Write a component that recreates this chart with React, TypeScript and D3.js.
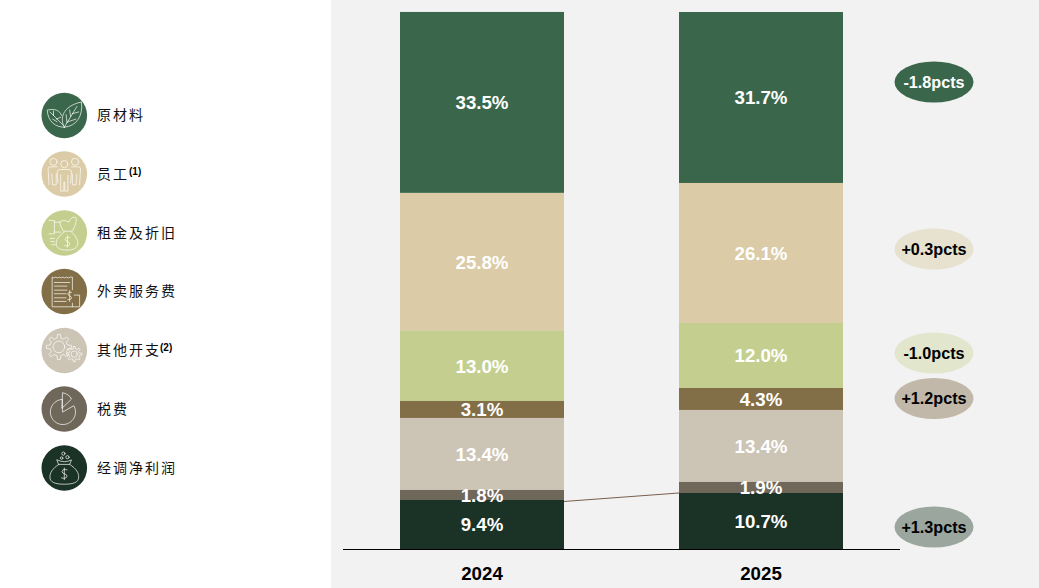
import React from "react";
import * as d3 from "d3";

const W = 1039, H = 588;

const categories = ["原材料", "员工", "租金及折旧", "外卖服务费", "其他开支", "税费", "经调净利润"];
const notes = ["", "(1)", "", "", "(2)", "", ""];
const years = ["2024", "2025"];
// Drawn band shares (top band first)
const shares2024 = [33.7, 25.7, 13.04, 3.17, 13.41, 1.86, 9.13];
const shares2025 = [31.84, 26.07, 12.1, 4.1, 13.41, 2.05, 10.43];
// Printed labels
const labels2024 = ["33.5%", "25.8%", "13.0%", "3.1%", "13.4%", "1.8%", "9.4%"];
const labels2025 = ["31.7%", "26.1%", "12.0%", "4.3%", "13.4%", "1.9%", "10.7%"];
const colors = ["#3A674B", "#DBCBA6", "#C4CF8F", "#836F47", "#CCC4B4", "#70675B", "#1B3226"];

const deltaLabels = ["-1.8pcts", "+0.3pcts", "-1.0pcts", "+1.2pcts", "+1.3pcts"];
const deltaPos = [82, 249, 353, 398.5, 527];
const deltaFill = ["#3A674B", "#E7E1D0", "#E2E6CC", "#C1B8A9", "#9AA69E"];
const deltaText = ["#FFFFFF", "#000000", "#000000", "#000000", "#000000"];

const LEGEND_Y = [115.5, 174, 233, 291.5, 350.5, 409, 468];

const y = d3.scaleLinear().domain([0, 100]).range([549, 12]);
const x = d3.scaleBand<string>().domain(years).range([400, 843]).paddingInner(115 / 279).paddingOuter(0);

function stackOf(values: number[]) {
  let acc = 0;
  const out: { y0: number; y1: number }[] = [];
  for (let i = values.length - 1; i >= 0; i--) {
    out[i] = { y0: y(acc), y1: y(acc + values[i]) };
    acc += values[i];
  }
  return out;
}

const gear = (cx: number, cy: number, r0: number, r1: number, n: number) => {
  const pts: [number, number][] = [];
  for (let i = 0; i < n; i++) {
    const a = (i / n) * 2 * Math.PI;
    const w = Math.PI / n / 2;
    [[a - w * 1.1, r0], [a - w * 0.6, r1], [a + w * 0.6, r1], [a + w * 1.1, r0]].forEach(([t, r]) =>
      pts.push([cx + r * Math.cos(t), cy + r * Math.sin(t)])
    );
  }
  return d3.line()(pts) + "Z";
};

const icons: React.ReactNode[] = [
  <g key="leaf">
    <path d="M24 37 C14 37 6 31 5 18 C13 16 19 18 21 24" />
    <path d="M8 20 L23 35 M12 24 L12 19 M15 28 L20 26 M11 28 L16 31" />
    <path d="M24 37 C19 28 21 14 43 9 C45 24 38 36 24 37 Z" />
    <path d="M24 37 L38 14 M27 32 L26 23 M31 25 L30 18 M28 31 L37 28 M33 22 L40 20" />
  </g>,
  <g key="people">
    <circle cx="12" cy="10.5" r="4" />
    <circle cx="24" cy="13" r="4" />
    <circle cx="36" cy="10.5" r="4" />
    <path d="M7 36 L6 18 Q6 16 9 16 L16 16 M10 24 L11 36 L15 36 L15 24" />
    <path d="M41 36 L42 18 Q42 16 39 16 L32 16 M38 24 L37 36 L33 36 L33 24" />
    <path d="M17 34 L16 22 Q16 19 19 19 L29 19 Q32 19 32 22 L31 34 M20 25 L20 43 L23.5 43 L23.5 33 L24.5 33 L24.5 43 L28 43 L28 25" />
  </g>,
  <g key="bag">
    <path d="M7 10 L13 10 L13 25 L7 25 M13 12 L19 12 M13 23 L20 23" />
    <path d="M19 12 C21 9 26 10 29 12 C30 8 35 5 37 7 C38 12 35 18 33 22 L23 22 C21 18 19 15 19 12 Z" />
    <path d="M24 23 C18 27 15 31 15 36 C15 41 20 43 27 43 C34 43 39 41 39 35 C39 31 36 26 32 23" />
    <path d="M8 30 L13 30 M9 33.5 L13 33.5 M10 37 L14 37" />
    <path d="M30 29 C28 28 25 29 25 31 C25 34 30 33 30 36 C30 38 27 39 24.5 38 M27.5 27 L27.5 40" />
  </g>,
  <g key="receipt">
    <path d="M33 37 L33 41 L10.5 41 L10.5 8 Q12.5 10 14.5 8 Q16.5 10 18.5 8 Q20.5 10 22.5 8 Q24.5 10 26.5 8 Q28.5 10 30.5 8 L33 8 L33 22" />
    <path d="M13 14 L30 14 M13 18 L27 18 M13 22.5 L27 22.5 M13 26.5 L26 26.5 M13 31 L26 31 M13 35 L26 35" />
    <path d="M32 25 C30 24 28 25 28 27 C28 29 32 29 32 31 C32 33 30 33 28 33 M30 23 L30 35" />
    <path d="M35 28 L41 28 L41 41 L33 41" />
  </g>,
  <g key="gears">
    <path d={gear(18, 20, 10, 14, 8)} />
    <circle cx="18" cy="20" r="6.5" />
    <path d={gear(35, 28, 6, 8.5, 8)} />
    <circle cx="35" cy="28" r="3.5" />
  </g>,
  <g key="pie">
    <path d="M21.5 13.3 A14 14 0 1 0 34.6 20.3 L22.5 27.3 Z" />
    <path d="M22.5 6 C27 7 30 9 32 13 L21.5 23 Z" />
  </g>,
  <g key="money">
    <path d="M18 20 C10 25 8 30 8 34 C8 40 14 42 24 42 C34 42 40 40 40 34 C40 30 38 25 30 20" />
    <path d="M16 15 Q20 17 24 17 Q28 17 32 15 L30 20 L18 20 Z" />
    <circle cx="23" cy="8" r="1.8" />
    <circle cx="27.5" cy="12" r="1.8" />
    <circle cx="21" cy="13" r="1.4" />
    <path d="M27 26 C25 25 21.5 25.5 21.5 28 C21.5 31 27 30 27 33 C27 35.5 23 36 21 35 M24 24 L24 37" />
  </g>,
];

export default function App() {
  const bw = x.bandwidth();
  const bars = [
    { year: years[0], x: x(years[0])!, stack: stackOf(shares2024), labels: labels2024 },
    { year: years[1], x: x(years[1])!, stack: stackOf(shares2025), labels: labels2025 },
  ];
  const connect = {
    x1: bars[0].x + bw,
    y1: bars[0].stack[6].y1 + 1.5,
    x2: bars[1].x,
    y2: bars[1].stack[6].y1,
  };
  const textFont = "'Liberation Sans', Arial, sans-serif";
  return (
    <svg
      width={W}
      height={H}
      viewBox={`0 0 ${W} ${H}`}
      style={{ position: "absolute", left: 0, top: 0, display: "block", background: "#fff" }}
    >
      <rect x={331} y={0} width={W - 331} height={H} fill="#F2F2F2" />
      {bars.map((b) => (
        <g key={b.year}>
          {b.stack.map((s, i) => (
            <rect key={i} x={b.x} y={s.y1} width={bw} height={s.y0 - s.y1} fill={colors[i]} />
          ))}
          {b.stack.map((s, i) => (
            <text
              key={i}
              x={b.x + bw / 2}
              y={(s.y0 + s.y1) / 2 + 6.6}
              textAnchor="middle"
              fontFamily={textFont}
              fontWeight="bold"
              fontSize={18.7}
              fill="#FFFFFF"
            >
              {b.labels[i]}
            </text>
          ))}
          <text
            x={b.x + bw / 2}
            y={580}
            textAnchor="middle"
            fontFamily={textFont}
            fontWeight="bold"
            fontSize={18.7}
            fill="#000"
          >
            {b.year}
          </text>
        </g>
      ))}
      <line {...connect} stroke="#7A5F4C" strokeWidth={1} />
      <line x1={343} x2={900} y1={549.5} y2={549.5} stroke="#000" strokeWidth={1} />
      {deltaLabels.map((t, i) => (
        <g key={t}>
          <ellipse cx={934} cy={deltaPos[i]} rx={39.5} ry={20.5} fill={deltaFill[i]} />
          <text
            x={934}
            y={deltaPos[i] + 5.5}
            textAnchor="middle"
            fontFamily={textFont}
            fontWeight="bold"
            fontSize={16.2}
            fill={deltaText[i]}
          >
            {t}
          </text>
        </g>
      ))}
      {categories.map((c, i) => (
        <g key={c}>
          <circle cx={64.3} cy={LEGEND_Y[i]} r={22.8} fill={colors[i]} />
          <g
            transform={`translate(${64.3 - 24 * 0.9} ${LEGEND_Y[i] - 24 * 0.9}) scale(0.9)`}
            fill="none"
            stroke="#FFFFFF"
            strokeOpacity={0.85}
            strokeWidth={0.9}
            strokeLinejoin="round"
            strokeLinecap="round"
          >
            {icons[i]}
          </g>
          <text
            x={97}
            y={LEGEND_Y[i] + 4.7}
            fontFamily="'Noto Sans CJK SC', sans-serif"
            fontSize={14}
            letterSpacing={2}
            fill="#111"
          >
            {c}
          </text>
          {notes[i] && (
            <text
              x={97 + c.length * 16 + (c.length === 2 ? 0 : -1)}
              y={LEGEND_Y[i] + 0.5}
              fontFamily={textFont}
              fontWeight="bold"
              fontSize={10}
              fill="#000"
            >
              {notes[i]}
            </text>
          )}
        </g>
      ))}
    </svg>
  );
}
